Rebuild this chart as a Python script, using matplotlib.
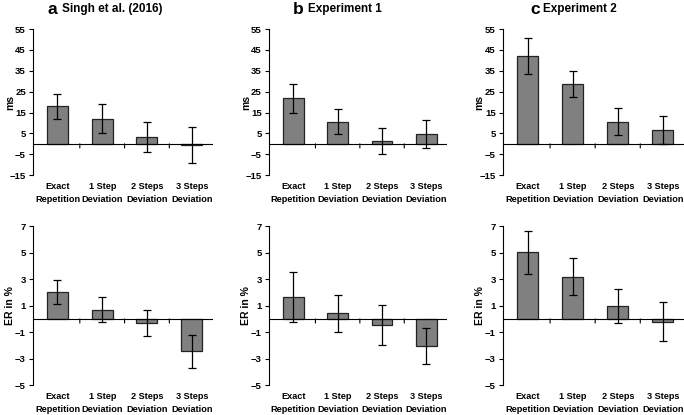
import numpy as np
import matplotlib.pyplot as plt

plt.rcParams['font.family'] = ['Liberation Sans', 'DejaVu Sans']
plt.rcParams['font.weight'] = 'bold'

categories = ['Exact\nRepetition', '1 Step\nDeviation', '2 Steps\nDeviation', '3 Steps\nDeviation']
panel_letters = ['a', 'b', 'c']
panel_titles = ['Singh et al. (2016)', 'Experiment 1', 'Experiment 2']

# reaction time effects (ms) and error bars
rt_means = [[18.0, 12.0, 3.3, -0.6],
            [21.8, 10.6, 1.5, 4.7],
            [42.2, 28.5, 10.5, 6.6]]
rt_errs = [[6.0, 7.0, 7.0, 8.5],
           [7.1, 6.0, 6.2, 6.9],
           [8.7, 6.3, 6.5, 6.6]]

# error rate effects (%) and error bars
er_means = [[2.05, 0.68, -0.28, -2.46],
            [1.66, 0.42, -0.45, -2.02],
            [5.02, 3.20, 0.98, -0.20]]
er_errs = [[0.92, 0.95, 0.98, 1.22],
           [1.87, 1.40, 1.50, 1.37],
           [1.62, 1.36, 1.28, 1.45]]

rt_ticks = [-15, -5, 5, 15, 25, 35, 45, 55]
er_ticks = [-5, -3, -1, 1, 3, 5, 7]

lefts = [0.048, 0.393, 0.735]
widths = [0.263, 0.261, 0.265]

fig = plt.figure(figsize=(6.84, 4.15), dpi=100)

x = np.arange(len(categories))


def draw_panel(ax, means, errs, ticks, ylabel, width_px):
    ax.bar(x, means, width=0.47, color='#808080', edgecolor='#222222', linewidth=0.9, zorder=2)
    ax.errorbar(x, means, yerr=errs, fmt='none', ecolor='black', elinewidth=0.9,
                capsize=2.6, capthick=0.9, zorder=3)
    ax.set_xlim(-0.55, 3.47)
    ax.set_ylim(ticks[0], ticks[-1])
    ax.set_yticks(ticks)
    ax.tick_params(axis='y', labelsize=6.8, length=3, width=0.8, pad=2)
    for lbl in ax.get_yticklabels():
        lbl.set_fontweight('bold')
    ax.set_xticks(x)
    ax.set_xticklabels(categories, fontsize=6.6, fontweight='bold', linespacing=1.5)
    ax.tick_params(axis='x', length=0, pad=5)
    for s in ['top', 'right', 'bottom']:
        ax.spines[s].set_visible(False)
    ax.spines['left'].set_linewidth(0.8)
    ax.axhline(0, color='black', linewidth=0.8, zorder=4)
    # boundary tick marks on the zero line
    for b in [0.5, 1.5, 2.5]:
        ax.annotate('', xy=(b, 0), xytext=(0, -3), textcoords='offset points',
                    arrowprops=dict(arrowstyle='-', color='black', lw=0.8,
                                    shrinkA=0, shrinkB=0))
    ax.set_ylabel(ylabel, fontsize=7.5, fontweight='bold')
    ax.yaxis.set_label_coords(-18 / width_px, 0.5)


for i in range(3):
    wpx = widths[i] * 684
    ax_top = fig.add_axes([lefts[i], 0.578, widths[i], 0.352])
    draw_panel(ax_top, rt_means[i], rt_errs[i], rt_ticks, 'ms', wpx)
    ax_bot = fig.add_axes([lefts[i], 0.072, widths[i], 0.383])
    draw_panel(ax_bot, er_means[i], er_errs[i], er_ticks, 'ER in %', wpx)

# panel headers
letter_x = [47, 293, 530]
title_x = [62, 308, 543]
for i in range(3):
    fig.text(letter_x[i] / 684, 1 - 9 / 415, panel_letters[i], fontsize=12.5, fontweight='bold',
             va='center', ha='left')
    fig.text(title_x[i] / 684, 1 - 9 / 415, panel_titles[i], fontsize=8.5, fontweight='bold',
             va='center', ha='left')

fig.savefig('out.png', dpi=100)
